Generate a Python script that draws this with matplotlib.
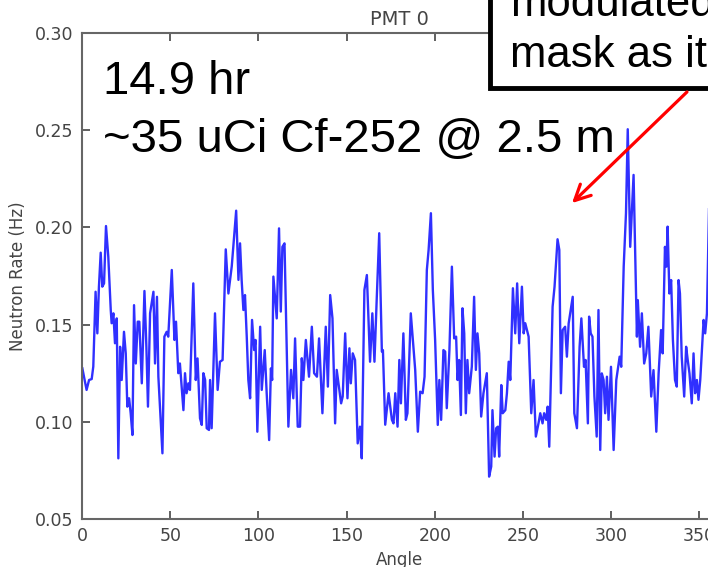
import matplotlib
matplotlib.use('Agg')
import matplotlib.pyplot as plt
from matplotlib.patches import Rectangle

# PMT 0 neutron rate vs mask angle
angles = [
    0.2, 2.6, 4.0, 5.5, 6.4, 7.7, 8.7, 9.6, 10.6, 11.5, 12.5, 13.6, 14.9, 16.3, 16.8, 17.8,
    18.7, 19.7, 20.6, 21.6, 22.5, 23.8, 24.8, 25.7, 26.7, 27.6, 28.6, 29.5, 30.5, 31.6, 32.5,
    33.9, 35.4, 36.5, 37.4, 38.6, 40.5, 41.4, 42.5, 43.3, 45.6, 46.7, 48.0, 48.9, 50.9, 52.4,
    53.3, 54.6, 55.5, 57.5, 58.4, 59.3, 60.3, 61.2, 63.1, 64.5, 65.5, 66.9, 67.9, 68.8, 69.8,
    70.7, 72.0, 72.6, 73.5, 75.4, 76.9, 78.2, 79.7, 81.5, 83.0, 84.9, 87.4, 88.7, 89.6, 90.5,
    91.5, 92.4, 93.4, 94.3, 95.3, 96.4, 97.6, 98.4, 99.4, 101.0, 101.9, 103.6, 104.7, 106.1,
    107.1, 107.8, 108.5, 110.4, 111.7, 112.7, 113.6, 114.8, 117.0, 118.5, 119.8, 120.8, 122.3,
    123.6, 124.6, 125.5, 126.9, 128.7, 130.3, 131.6, 133.2, 134.4, 136.3, 138.2, 139.4, 140.7,
    142.0, 143.5, 144.4, 146.9, 147.8, 149.2, 150.5, 151.6, 152.4, 153.5, 154.8, 156.3, 157.6,
    158.6, 160.1, 161.5, 163.3, 164.6, 165.8, 167.1, 168.5, 170.0, 170.6, 171.9, 173.8, 175.7,
    176.6, 177.6, 178.9, 179.9, 180.8, 182.2, 183.6, 184.5, 186.4, 187.6, 188.9, 190.4, 191.7,
    193.1, 194.2, 195.5, 196.5, 197.8, 198.9, 200.2, 201.7, 202.6, 203.6, 204.9, 205.9, 206.8,
    208.3, 209.7, 211.0, 212.1, 212.9, 213.8, 214.8, 215.7, 216.7, 217.6, 218.5, 219.5, 221.0,
    222.3, 223.3, 224.2, 225.2, 226.3, 227.6, 229.5, 230.8, 232.0, 232.7, 233.9, 234.8, 235.8,
    236.5, 237.7, 238.5, 240.0, 240.9, 241.9, 242.8, 244.3, 245.6, 246.7, 247.9, 249.4, 250.4,
    251.3, 253.2, 254.7, 256.0, 257.3, 258.8, 259.8, 261.1, 262.0, 263.2, 264.0, 264.9, 266.8,
    267.9, 269.6, 270.6, 271.5, 272.5, 273.9, 274.9, 275.9, 278.2, 279.1, 280.6, 282.1, 283.1,
    284.6, 285.5, 286.8, 287.5, 288.4, 289.4, 290.5, 291.8, 292.8, 293.8, 294.7, 295.7, 296.6,
    297.6, 298.5, 299.9, 301.4, 302.9, 304.8, 305.7, 307.1, 308.4, 309.4, 310.8, 312.7, 314.6,
    315.1, 316.4, 317.4, 318.7, 319.9, 321.1, 322.7, 324.0, 325.6, 326.9, 328.3, 329.2, 330.5,
    331.3, 332.0, 333.0, 334.0, 335.0, 336.2, 337.2, 338.2, 339.0, 340.0, 341.4, 342.5, 343.4,
    344.4, 345.7, 346.7, 347.6, 348.6, 349.5, 350.5, 352.4, 353.3, 354.3, 355.5, 357.0,
]
rates = [
    0.1275, 0.1164, 0.1215, 0.122, 0.1284, 0.1669, 0.1455, 0.1695, 0.187, 0.1695, 0.1712, 0.2007,
    0.185, 0.1575, 0.1507, 0.1558, 0.1404, 0.1532, 0.0812, 0.1386, 0.1215, 0.1463, 0.1352, 0.1078,
    0.1121, 0.1044, 0.0932, 0.160, 0.130, 0.1515, 0.1515, 0.1198, 0.1673, 0.1386, 0.1078, 0.1558,
    0.1669, 0.130, 0.1643, 0.1232, 0.0838, 0.1438, 0.1463, 0.1438, 0.1781, 0.1421, 0.1515, 0.125,
    0.130, 0.106, 0.125, 0.1147, 0.1198, 0.1164, 0.1712, 0.1215, 0.1326, 0.1018, 0.0984, 0.125,
    0.1215, 0.0967, 0.0958, 0.1215, 0.0967, 0.1558, 0.1164, 0.1309, 0.1318, 0.1887, 0.166, 0.180,
    0.2086, 0.173, 0.1918, 0.173, 0.1575, 0.1652, 0.1438, 0.1215, 0.1121, 0.1524, 0.1369, 0.1421,
    0.0949, 0.1489, 0.1164, 0.1369, 0.1147, 0.0906, 0.1275, 0.1215, 0.1747, 0.1532, 0.1995, 0.1567,
    0.190, 0.1918, 0.0975, 0.1267, 0.1121, 0.1429, 0.0975, 0.0975, 0.1327, 0.1215, 0.1421, 0.1232,
    0.1489, 0.125, 0.1232, 0.1429, 0.1044, 0.1489, 0.1181, 0.1652, 0.1532, 0.0992, 0.1267, 0.1095,
    0.113, 0.1455, 0.1121, 0.1378, 0.1198, 0.1352, 0.1318, 0.0889, 0.0975, 0.0812, 0.1678, 0.1755,
    0.1309, 0.1558, 0.1309, 0.1635, 0.197, 0.1361, 0.1369, 0.0985, 0.1147, 0.101, 0.0992, 0.1147,
    0.0975, 0.1318, 0.1095, 0.1455, 0.101, 0.1044, 0.1558, 0.1421, 0.1267, 0.0949, 0.1155, 0.1147,
    0.1232, 0.1781, 0.1884, 0.2073, 0.1678, 0.1421, 0.0984, 0.1215, 0.101, 0.1369, 0.1361, 0.107,
    0.1369, 0.1798, 0.1429, 0.1438, 0.1215, 0.1318, 0.1035, 0.1584, 0.1455, 0.1044, 0.1318, 0.1147,
    0.1284, 0.1643, 0.1267, 0.1455, 0.1352, 0.1027, 0.1147, 0.125, 0.0718, 0.077, 0.106, 0.0821,
    0.0967, 0.0975, 0.0821, 0.1189, 0.1044, 0.106, 0.1147, 0.1309, 0.1215, 0.1687, 0.1455, 0.1712,
    0.1404, 0.1695, 0.1455, 0.1507, 0.1438, 0.1044, 0.1215, 0.0924, 0.0992, 0.1044, 0.0992, 0.1044,
    0.101, 0.1078, 0.0872, 0.1592, 0.1695, 0.1939, 0.1884, 0.1147, 0.1472, 0.1489, 0.1335, 0.1506,
    0.1643, 0.1044, 0.0967, 0.1386, 0.1532, 0.1283, 0.1318, 0.0992, 0.1541, 0.1455, 0.1438, 0.113,
    0.0924, 0.1575, 0.0855, 0.1249, 0.1215, 0.1044, 0.1232, 0.101, 0.1283, 0.0855, 0.1215, 0.1335,
    0.1283, 0.1798, 0.2073, 0.2505, 0.190, 0.227, 0.1438, 0.1626, 0.1386, 0.1558, 0.130, 0.1352,
    0.1489, 0.113, 0.1266, 0.0949, 0.1249, 0.1472, 0.1352, 0.190, 0.1798, 0.2004, 0.166, 0.1729,
    0.1421, 0.1215, 0.1181, 0.1729, 0.166, 0.1335, 0.113, 0.1386, 0.1318, 0.1249, 0.1095, 0.1352,
    0.1147, 0.1215, 0.1113, 0.1215, 0.1524, 0.1455, 0.1558, 0.211, 0.175,
]

x_ticks = [0, 50, 100, 150, 200, 250, 300, 350]
y_ticks = [0.05, 0.10, 0.15, 0.20, 0.25, 0.30]

GREY = '#444444'
W, H = 708, 567

fig = plt.figure(figsize=(W / 100, H / 100), dpi=100)
# axes run past the right edge, the screenshot is cropped there
ax = fig.add_axes([82 / W, 48 / H, 635 / W, 486 / H])

ax.plot(angles, rates, color='#3030ff', lw=1.7)

ax.set_xlim(0, 360)
ax.set_ylim(0.05, 0.30)
ax.set_xticks(x_ticks)
ax.set_yticks(y_ticks)
ax.set_yticklabels(['%.2f' % v for v in y_ticks])
ax.tick_params(direction='in', length=6, width=1.2, top=True, right=True,
               labelsize=12.5, colors=GREY, pad=6)
for sp in ax.spines.values():
    sp.set_color('#666666')
    sp.set_linewidth(1.5)

ax.set_title('PMT 0', fontsize=14, color=GREY, pad=6)
ax.set_xlabel('Angle', fontsize=12, color=GREY, labelpad=4)
ax.set_ylabel('Neutron Rate (Hz)', fontsize=12, color=GREY, labelpad=6)

# slide overlay text
big = dict(family='Liberation Sans', fontsize=34, color='black', va='baseline')
fig.text(103 / W, 1 - 94 / H, '14.9 hr', **big)
fig.text(103 / W, 1 - 152 / H, '~35 uCi Cf-252 @ 2.5 m', **big)

box = Rectangle((490 / W, 1 - 88 / H), 0.5, 0.3, transform=fig.transFigure,
                facecolor='white', edgecolor='black', lw=3.5, zorder=5)
fig.patches.append(box)
small = dict(family='Liberation Sans', fontsize=31.5, color='black', va='baseline', zorder=6)
fig.text(510 / W, 1 - 16 / H, 'modulated', **small)
fig.text(510 / W, 1 - 67 / H, 'mask as it', **small)

fig.add_artist(matplotlib.patches.FancyArrowPatch(
    (689 / W, 1 - 90 / H), (570 / W, 1 - 205 / H), transform=fig.transFigure,
    arrowstyle='->', mutation_scale=28, color='red', lw=2.3, zorder=6))

fig.savefig('out.png', dpi=100)
